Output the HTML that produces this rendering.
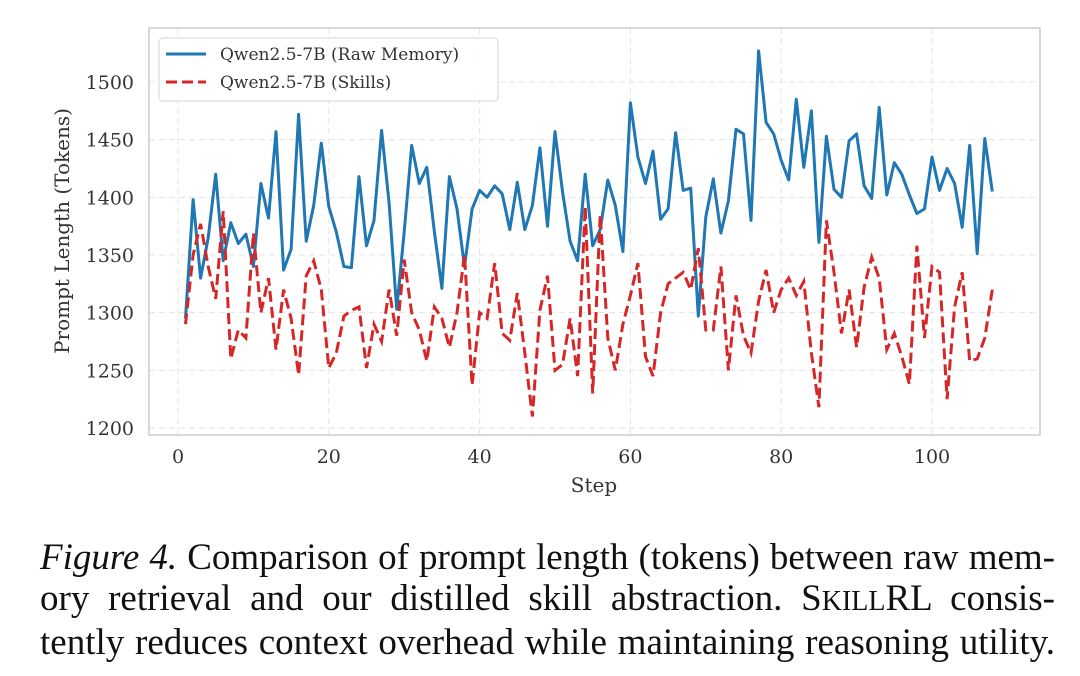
<!DOCTYPE html>
<html><head><meta charset="utf-8"><style>
body{margin:0;background:#fff;width:1080px;height:676px;overflow:hidden;position:relative}
svg text{font-family:"DejaVu Serif",serif;fill:#333}
.cap{position:absolute;left:40px;width:1015px;font-family:"Liberation Serif",serif;font-size:37px;line-height:41px;color:#111}
.cap div{text-align:justify;text-align-last:justify;white-space:nowrap}
</style></head><body>
<svg id="chart" width="1080" height="520" style="position:absolute;left:0;top:0"></svg>
<div class="cap" style="top:537px">
<div><i>Figure 4.</i> Comparison of prompt length (tokens) between raw mem-</div>
<div>ory retrieval and our distilled skill abstraction. S<span style="font-size:28px">KILL</span>RL consis-</div>
<div>tently reduces context overhead while maintaining reasoning utility.</div>
</div>
<script>
const steps = Array.from({length:108},(_,i)=>i+1);
const rawMemory = [1295,1398,1330,1365,1420,1345,1378,1360,1368,1340,1412,1382,1457,1337,1355,1472,1362,1393,1447,1392,1370,1340,1339,1418,1358,1380,1458,1395,1303,1370,1445,1412,1426,1370,1321,1418,1390,1340,1390,1406,1400,1410,1403,1372,1413,1372,1393,1443,1375,1457,1405,1362,1345,1420,1358,1372,1415,1393,1353,1482,1435,1412,1440,1381,1390,1456,1406,1408,1297,1383,1416,1369,1397,1459,1455,1380,1527,1465,1455,1432,1415,1485,1426,1475,1361,1453,1407,1400,1449,1455,1410,1399,1478,1402,1430,1420,1402,1386,1390,1435,1406,1425,1412,1374,1445,1351,1451,1405];
const skills = [1290,1350,1377,1340,1312,1388,1260,1285,1278,1369,1300,1330,1268,1320,1295,1246,1332,1345,1320,1252,1265,1297,1302,1305,1252,1290,1275,1320,1280,1346,1300,1285,1258,1305,1295,1270,1300,1350,1237,1300,1295,1343,1282,1276,1317,1265,1210,1302,1332,1250,1255,1295,1245,1392,1230,1385,1278,1250,1290,1315,1343,1262,1245,1300,1325,1330,1335,1320,1356,1285,1285,1340,1250,1315,1280,1265,1310,1337,1300,1320,1330,1315,1327,1265,1218,1380,1335,1282,1320,1270,1322,1348,1330,1268,1282,1262,1238,1358,1278,1340,1335,1225,1305,1335,1258,1260,1278,1320];
const xTicks = [0,20,40,60,80,100];
const yTicks = [1200,1250,1300,1350,1400,1450,1500];
const legendLabels = ["Qwen2.5-7B (Raw Memory)","Qwen2.5-7B (Skills)"];

const NS="http://www.w3.org/2000/svg", svg=document.getElementById('chart');
const L=149,R=1040,T=28,B=435;
const X=v=>178+(v-0)*(932-178)/100;
const Y=v=>428-(v-1200)*(428-82)/300;
function mk(tag,attrs,parent){const e=document.createElementNS(NS,tag);for(const k in attrs)e.setAttribute(k,attrs[k]);(parent||svg).appendChild(e);return e;}
xTicks.forEach(t=>{
  const g=mk('line',{x1:X(t),x2:X(t),y1:T,y2:B,stroke:'#e4e4e4','stroke-dasharray':'6,4','stroke-width':1});
  
  
  const tx=mk('text',{x:X(t),y:463,'text-anchor':'middle','font-size':19});tx.textContent=t;
  
  
});
yTicks.forEach(t=>{
  const g=mk('line',{x1:L,x2:R,y1:Y(t),y2:Y(t),stroke:'#e4e4e4','stroke-dasharray':'6,4','stroke-width':1});
  
  
  const tx=mk('text',{x:134,y:Y(t)+7,'text-anchor':'end','font-size':19});tx.textContent=t;
  
  
});
const frame=mk('rect',{x:L,y:T,width:R-L,height:B-T,fill:'none',stroke:'#ccc','stroke-width':1.5});


function path(arr){return arr.map((v,i)=>(i?'L':'M')+X(steps[i]).toFixed(1)+','+Y(v).toFixed(1)).join('');}
const l1=mk('path',{d:path(rawMemory),fill:'none',stroke:'#1f77b4','stroke-width':3,'stroke-linejoin':'round'});


const l2=mk('path',{d:path(skills),fill:'none',stroke:'#d62728','stroke-width':3,'stroke-dasharray':'11,5'});


const xt=mk('text',{x:594,y:492,'text-anchor':'middle','font-size':20});xt.textContent='Step';


const yt=mk('text',{x:0,y:0,'text-anchor':'middle','font-size':20,transform:'translate(69,231) rotate(-90)'});yt.textContent='Prompt Length (Tokens)';


const lg=mk('g',{});


mk('rect',{x:159,y:38,width:339,height:63,rx:4,fill:'#fff','fill-opacity':0.9,stroke:'#ddd','stroke-width':1.2},lg);
const cols=['#1f77b4','#d62728'];
legendLabels.forEach((lab,i)=>{
  const y=54+i*28;
  const ln=mk('line',{x1:166,x2:206,y1:y,y2:y,stroke:cols[i],'stroke-width':3,'stroke-dasharray':i?'11,5':'none'},lg);
  
  
  const tx=mk('text',{x:220,y:y+6,'font-size':17},lg);tx.textContent=lab;
  
  
});
</script>
</body></html>
